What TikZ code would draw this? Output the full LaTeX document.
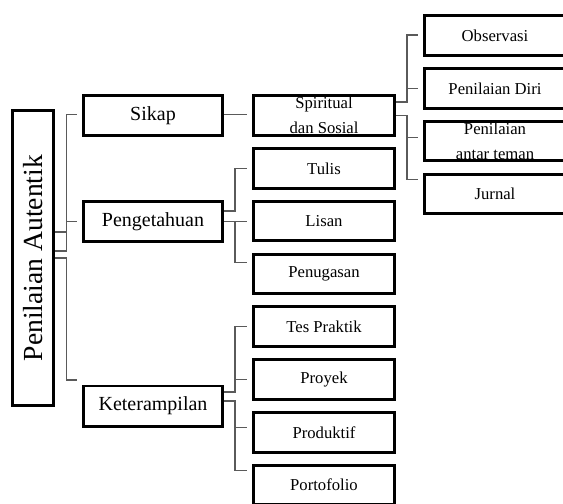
\documentclass[tikz,border=0pt]{standalone}
\usepackage{fontspec}
\setmainfont{Liberation Serif}
\usetikzlibrary{calc}
\definecolor{connc}{HTML}{5A5A5A}
\tikzset{
  box/.style={draw=black, line width=2.2pt, fill=white, inner sep=0pt, align=center, text=black},
  lvlone/.style={box, minimum width=104.3pt, minimum height=30.05pt, font=\fontsize{15}{18}\selectfont},
  lvltwo/.style={box, minimum width=105.8pt, minimum height=29.7pt, font=\fontsize{12.5}{18.5}\selectfont},
  conn/.style={draw=connc, line width=0.8pt},
}
\begin{document}
\begin{tikzpicture}[x=0.75pt,y=-0.75pt]
\useasboundingbox (0,0) rectangle (563,503);
\clip (0,0) rectangle (563,503);
% root
\node[box, rotate=90, minimum width=221.3pt, minimum height=30.8pt, font=\fontsize{20.7}{24}\selectfont] (main) at (33,258) {Penilaian Autentik};
% level 1
\node[lvlone] (sikap) at (153,115.5) {Sikap};
\node[lvlone] (peng) at (153,221.5) {Pengetahuan};
\node[lvlone] (ket) at (153,406) {Keterampilan};
% level 2
\node[lvltwo] (spir) at (324,115.5) {Spiritual\\dan Sosial};
\node[lvltwo] (tulis) at (324,168.3) {Tulis};
\node[lvltwo] (lisan) at (324,221.1) {Lisan};
\node[lvltwo] (tugas) at (324,273.9) {Penugasan};
\node[lvltwo] (tes) at (324,326.7) {Tes Praktik};
\node[lvltwo] (proyek) at (324,379.5) {Proyek};
\node[lvltwo] (prod) at (324,432.3) {Produktif};
\node[lvltwo] (porto) at (324,485.1) {Portofolio};
% level 3
\node[lvltwo] (obs) at (495,35.5) {Observasi};
\node[lvltwo] (diri) at (495,88.3) {Penilaian Diri};
\node[lvltwo] (antar) at (495,141.1) {Penilaian\\antar teman};
\node[lvltwo] (jurnal) at (495,193.9) {Jurnal};
% connectors from root
\draw[conn] ($(main.south)+(0,-26)$) -- ++(11.5,0) |- ($(sikap.west)+(-5,-1)$);
\draw[conn] ($(main.south)+(0,-7)$) -- ++(11.5,0) |- ($(peng.west)+(-5,0)$);
\draw[conn] (main.south) -- ++(11.5,0) |- ($(ket.west)+(-5,-26)$);
% sikap
\draw[conn] ($(sikap.east)+(0,-1)$) -- ($(spir.west)+(-5,-1)$);
% pengetahuan
\draw[conn] ($(peng.east)+(0,-10.5)$) -- ++(11,0) |- ($(tulis.west)+(-5,0)$);
\draw[conn] (peng.east) -- ++(11,0) |- ($(lisan.west)+(-5,0)$);
\draw[conn] (peng.east) -- ++(11,0) |- ($(tugas.west)+(-5,-11)$);
% keterampilan
\draw[conn] ($(ket.east)+(0,-14)$) -- ++(11,0) |- ($(tes.west)+(-5,0)$);
\draw[conn] ($(ket.east)+(0,-14)$) -- ++(11,0) |- ($(proyek.west)+(-5,0)$);
\draw[conn] ($(ket.east)+(0,-5)$) -- ++(11,0) |- ($(prod.west)+(-5,-5)$);
\draw[conn] ($(ket.east)+(0,-5)$) -- ++(11,0) |- ($(porto.west)+(-5,-15)$);
% spiritual
\draw[conn] ($(spir.east)+(0,-13.5)$) -- ++(11,0) |- ($(obs.west)+(-5,-0.5)$);
\draw[conn] ($(spir.east)+(0,-13.5)$) -- ++(11,0) |- ($(diri.west)+(-5,0)$);
\draw[conn] (spir.east) -- ++(11,0) |- ($(antar.west)+(-5,-4)$);
\draw[conn] (spir.east) -- ++(11,0) |- ($(jurnal.west)+(-5,-14)$);
\end{tikzpicture}
\end{document}
